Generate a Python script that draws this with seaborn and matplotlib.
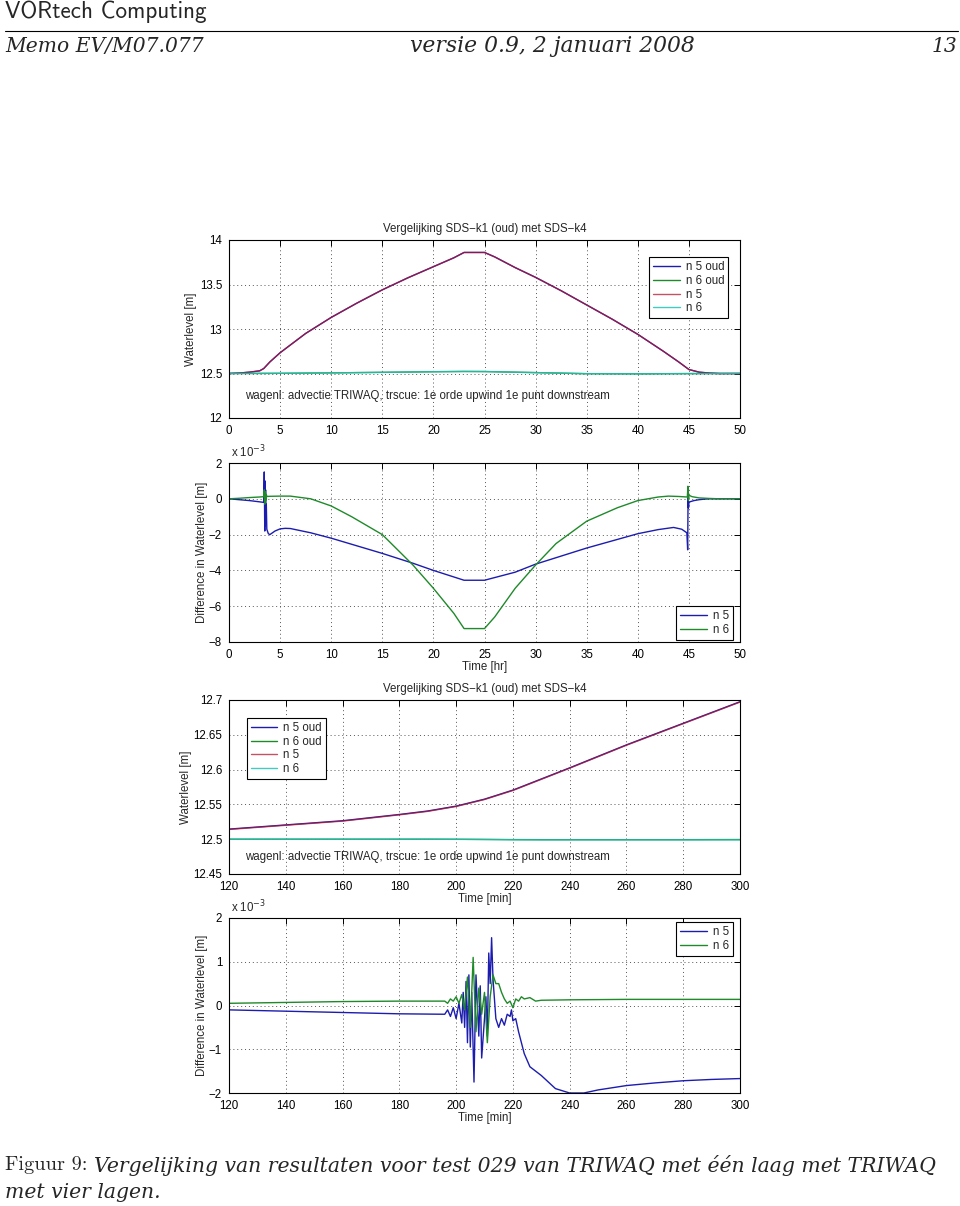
import matplotlib
matplotlib.use("Agg")
import matplotlib.pyplot as plt
import seaborn as sns
import pandas as pd

# ---------------- data ----------------
# Panel 1: waterlevel vs time [hr]
t_hr_n5 = [0, 1, 2, 3, 3.4, 4, 5, 6, 7.5, 10, 12.5, 15, 17.5, 20, 22, 23, 25, 26, 28, 30,
           32.5, 35, 37.5, 40, 42.5, 44, 45, 46, 47, 48, 50]
wl_n5_oud = [12.5, 12.505, 12.515, 12.53, 12.556, 12.63, 12.733, 12.82, 12.95, 13.13, 13.29,
             13.44, 13.575, 13.70, 13.80, 13.86, 13.86, 13.81, 13.69, 13.58, 13.43, 13.27, 13.11,
             12.94, 12.75, 12.63, 12.545, 12.515, 12.505, 12.5, 12.5]
wl_n5 = [12.5, 12.505, 12.515, 12.53, 12.556, 12.63, 12.733, 12.82, 12.95, 13.13, 13.29,
         13.44, 13.575, 13.70, 13.80, 13.86, 13.86, 13.81, 13.69, 13.58, 13.43, 13.27, 13.11,
         12.94, 12.75, 12.63, 12.545, 12.515, 12.505, 12.5, 12.5]
t_hr_n6 = [0, 5, 10, 15, 20, 23, 25, 30, 35, 40, 45, 50]
wl_n6_oud = [12.5, 12.502, 12.507, 12.513, 12.52, 12.523, 12.522, 12.51, 12.498, 12.496, 12.499, 12.5]
wl_n6 = [12.5, 12.502, 12.507, 12.513, 12.52, 12.523, 12.522, 12.51, 12.498, 12.496, 12.499, 12.5]

# Panel 2: difference (x 1e-3 m) vs time [hr]
t_hr_d5 = [0, 1, 2, 3, 3.4, 3.45, 3.5, 3.52, 3.55, 3.58, 3.6, 3.65, 3.7, 3.85, 4.0, 4.5, 5, 5.5, 6,
           8, 10, 15, 18, 20, 23, 25, 28, 30, 35, 40, 42, 43.5, 44.3, 44.8, 44.88, 44.92, 44.96,
           45.0, 45.05, 45.2, 45.5, 46, 46.5, 47, 48, 50]
d_n5 = [0, -0.05, -0.1, -0.17, -0.2, 1.5, -1.8, 1.0, -1.5, 0.5, -0.8, -0.3, -1.7, -1.95, -2.0,
        -1.8, -1.68, -1.65, -1.66, -1.9, -2.2, -3.05, -3.6, -4.0, -4.55, -4.55, -4.1, -3.65,
        -2.75, -1.95, -1.72, -1.6, -1.7, -1.9, -2.85, 0.2, -0.5, -0.2, -0.18, -0.15, -0.1,
        -0.05, -0.02, 0, 0, 0]
t_hr_d6 = [0, 1, 2, 3, 3.4, 3.45, 3.5, 3.55, 3.6, 3.65, 3.7, 4, 5, 6, 8, 10, 12, 15, 18, 20, 22,
           23, 25, 26, 28, 30, 32, 35, 38, 40, 42, 43, 44, 44.85, 44.9, 44.95, 45.0, 45.3, 46,
           47, 48, 50]
d_n6 = [0, 0.03, 0.07, 0.1, 0.12, 0.5, -0.3, 0.4, -0.1, 0.25, 0.13, 0.14, 0.15, 0.15, 0.0, -0.4,
        -1.0, -2.0, -3.7, -5.0, -6.4, -7.25, -7.25, -6.6, -5.0, -3.7, -2.5, -1.25, -0.5, -0.1,
        0.1, 0.15, 0.13, 0.1, 0.7, -0.1, 0.2, 0.12, 0.05, 0.02, 0.0, 0.0]

# Panel 3: waterlevel vs time [min]
t_min = [120, 140, 160, 180, 190, 200, 210, 220, 230, 240, 260, 280, 300]
wlm_n5_oud = [12.5145, 12.5205, 12.5265, 12.5355, 12.5405, 12.5475, 12.5575, 12.5705, 12.5865,
              12.6025, 12.6355, 12.6665, 12.6975]
wlm_n6_oud = [12.5, 12.5, 12.5, 12.5, 12.5, 12.4999, 12.4997, 12.4994, 12.4993, 12.4993,
              12.4993, 12.4993, 12.4995]
wlm_n5 = [12.514, 12.520, 12.526, 12.535, 12.540, 12.547, 12.557, 12.570, 12.586, 12.602,
          12.635, 12.666, 12.697]
wlm_n6 = [12.5, 12.5, 12.5, 12.5, 12.5, 12.4998, 12.4995, 12.4992, 12.4990, 12.4990, 12.4990,
          12.4990, 12.4990]

# Panel 4: difference (x 1e-3 m) vs time [min]
t_min_d5 = [120, 140, 160, 180, 196, 197, 198, 199, 200, 201, 202, 202.5, 203, 203.5, 204,
            204.5, 205, 205.5, 206.3, 207, 208, 208.5, 209, 210, 210.5, 211, 211.5, 212, 212.5,
            213, 214, 215, 216, 217, 218, 219, 219.5, 220, 221, 222, 224, 226, 230, 235, 240,
            245, 250, 260, 270, 280, 290, 300]
dm_n5 = [-0.1, -0.13, -0.16, -0.19, -0.2, -0.1, -0.25, -0.05, -0.3, 0.05, -0.4, 0.3, -0.5, 0.55,
         -0.85, 0.7, -0.95, 0.3, -1.75, 0.7, -0.7, 0.45, -1.2, -0.3, 0.2, -0.7, 1.2, 0.5, 1.55,
         0.6, -0.3, -0.5, -0.3, -0.45, -0.2, -0.25, -0.1, -0.35, -0.3, -0.6, -1.1, -1.4, -1.6,
         -1.9, -2.0, -2.0, -1.93, -1.83, -1.77, -1.72, -1.69, -1.67]
t_min_d6 = [120, 140, 160, 180, 196, 197, 198, 199, 200, 201, 202, 203, 204, 205, 206, 207, 208,
            209, 210, 211, 212, 213, 214, 215, 216, 217, 218, 219, 220, 221, 222, 223, 224, 226,
            228, 230, 240, 260, 280, 300]
dm_n6 = [0.05, 0.07, 0.09, 0.1, 0.1, 0.05, 0.15, 0.1, 0.2, 0.05, 0.25, -0.1, 0.65, -0.5, 1.1,
         -0.6, 0.4, -0.2, 0.3, -0.85, 0.2, 0.7, 0.5, 0.5, 0.3, 0.15, 0.05, 0.1, -0.05, 0.15, 0.1,
         0.2, 0.15, 0.18, 0.1, 0.12, 0.13, 0.14, 0.14, 0.14]

title_txt = "Vergelijking SDS\u2212k1 (oud) met SDS\u2212k4"
note_txt = "wagenl: advectie TRIWAQ, trscue: 1e orde upwind 1e punt downstream"
xt_hr = [0, 5, 10, 15, 20, 25, 30, 35, 40, 45, 50]
xt_min = [120, 140, 160, 180, 200, 220, 240, 260, 280, 300]
yt1 = [12, 12.5, 13, 13.5, 14]
yt2 = [-8, -6, -4, -2, 0, 2]
yt3 = [12.45, 12.5, 12.55, 12.6, 12.65, 12.7]
yt4 = [-2, -1, 0, 1, 2]

# ---------------- style ----------------
sns.set_theme(style="white")
plt.rcParams['font.family'] = ['Liberation Sans', 'DejaVu Sans']
plt.rcParams['axes.unicode_minus'] = True
FS = 8.3

C_BLUE = "#1c1cb0"
C_GREEN = "#1f8a2a"
C_RED = "#b01830"
C_CYAN = "#22c2b8"

W, H = 960, 1206
fig = plt.figure(figsize=(W / 100, H / 100), dpi=100)


def rect(l, t, r, b):
    return [l / W, 1 - b / H, (r - l) / W, (b - t) / H]


def style_axes(ax, xticks, yticks, xlim, ylim):
    ax.set_xlim(*xlim)
    ax.set_ylim(*ylim)
    ax.set_xticks(xticks)
    ax.set_yticks(yticks)
    ax.set_xticklabels([f"{v:g}" for v in xticks])
    ax.set_yticklabels([f"{v:g}".replace("-", "\u2212") for v in yticks])
    ax.tick_params(direction='in', length=4, width=0.7, top=True, right=True,
                   labelsize=FS, pad=5, colors='black')
    ax.grid(True, linestyle=(0, (1, 3)), color='#555555', linewidth=0.7)
    for s in ax.spines.values():
        s.set_color('black')
        s.set_linewidth(0.8)
    ax.set_facecolor('white')


def line(ax, x, y, color, label, lw=1.0, alpha=1.0):
    df = pd.DataFrame({'x': x, 'y': y})
    sns.lineplot(data=df, x='x', y='y', ax=ax, color=color, label=label, lw=lw,
                 estimator=None, sort=False, alpha=alpha)


def legend(ax, loc, anchor):
    lg = ax.legend(loc=loc, bbox_to_anchor=anchor, borderaxespad=0, fontsize=FS,
                   fancybox=False, framealpha=1, edgecolor='black', handlelength=2.3,
                   handletextpad=0.5, labelspacing=0.15, borderpad=0.35)
    lg.get_frame().set_linewidth(0.8)


# Panel 1
ax1 = fig.add_axes(rect(229, 240, 740, 418))
line(ax1, t_hr_n5, wl_n5_oud, C_BLUE, "n 5 oud")
line(ax1, t_hr_n6, wl_n6_oud, C_GREEN, "n 6 oud")
line(ax1, t_hr_n5, wl_n5, C_RED, "n 5", alpha=0.75)
line(ax1, t_hr_n6, wl_n6, C_CYAN, "n 6", alpha=0.85)
style_axes(ax1, xt_hr, yt1, (0, 50), (12, 14))
ax1.set_title(title_txt, fontsize=FS, pad=6)
ax1.set_xlabel("")
ax1.set_ylabel("Waterlevel [m]", fontsize=FS)
ax1.yaxis.set_label_coords(-0.062, 0.5)
ax1.text(0.031, 0.124, note_txt, transform=ax1.transAxes, fontsize=FS, va='center', ha='left')
legend(ax1, 'upper right', (0.977, 0.904))

# Panel 2
ax2 = fig.add_axes(rect(229, 463, 740, 642))
line(ax2, t_hr_d5, d_n5, C_BLUE, "n 5")
line(ax2, t_hr_d6, d_n6, C_GREEN, "n 6")
style_axes(ax2, xt_hr, yt2, (0, 50), (-8, 2))
ax2.set_xlabel("Time [hr]", fontsize=FS)
ax2.xaxis.set_label_coords(0.5, -0.105)
ax2.set_ylabel("Difference in Waterlevel [m]", fontsize=FS)
ax2.yaxis.set_label_coords(-0.042, 0.5)
ax2.text(0.003, 1.015, r"x 10$^{-3}$", transform=ax2.transAxes, fontsize=FS, va='bottom')
legend(ax2, 'lower right', (0.986, 0.011))

# Panel 3
ax3 = fig.add_axes(rect(229, 700, 740, 874))
line(ax3, t_min, wlm_n5_oud, C_BLUE, "n 5 oud")
line(ax3, t_min, wlm_n6_oud, C_GREEN, "n 6 oud")
line(ax3, t_min, wlm_n5, C_RED, "n 5", alpha=0.75)
line(ax3, t_min, wlm_n6, C_CYAN, "n 6", alpha=0.85)
style_axes(ax3, xt_min, yt3, (120, 300), (12.45, 12.7))
ax3.set_title(title_txt, fontsize=FS, pad=6)
ax3.set_xlabel("Time [min]", fontsize=FS)
ax3.xaxis.set_label_coords(0.5, -0.108)
ax3.set_ylabel("Waterlevel [m]", fontsize=FS)
ax3.yaxis.set_label_coords(-0.072, 0.5)
ax3.text(0.031, 0.098, note_txt, transform=ax3.transAxes, fontsize=FS, va='center', ha='left')
legend(ax3, 'upper left', (0.035, 0.897))

# Panel 4
ax4 = fig.add_axes(rect(229, 918, 740, 1093))
line(ax4, t_min_d5, dm_n5, C_BLUE, "n 5")
line(ax4, t_min_d6, dm_n6, C_GREEN, "n 6")
style_axes(ax4, xt_min, yt4, (120, 300), (-2, 2))
ax4.set_xlabel("Time [min]", fontsize=FS)
ax4.xaxis.set_label_coords(0.5, -0.107)
ax4.set_ylabel("Difference in Waterlevel [m]", fontsize=FS)
ax4.yaxis.set_label_coords(-0.042, 0.5)
ax4.text(0.003, 1.015, r"x 10$^{-3}$", transform=ax4.transAxes, fontsize=FS, va='bottom')
legend(ax4, 'upper right', (0.986, 0.977))

# ---------------- page header & caption ----------------
renderer = fig.canvas.get_renderer()
SERIF_IT = dict(family=['DejaVu Serif'], style='italic')


def fit_text(x_px, y_px, s, target_w, ha='left', **kw):
    t = fig.text(x_px / W, 1 - y_px / H, s, ha=ha, va='center', fontsize=16, **kw)
    w = t.get_window_extent(renderer).width
    t.set_fontsize(16 * target_w / w)
    return t


fit_text(5, 12, "VORtech Computing", 202, family=['cmss10', 'DejaVu Sans'])
fig.add_artist(plt.Line2D([5 / W, 958 / W], [1 - 31 / H, 1 - 31 / H], color='black', lw=0.8))
tm = fit_text(5, 46, "Memo EV/M07.077", 199, **SERIF_IT)
fs_head = tm.get_fontsize()
fit_text(552, 46, "versie 0.9, 2 januari 2008", 285, ha='center', **SERIF_IT)
fig.text(957 / W, 1 - 46 / H, "13", ha='right', va='center', fontsize=fs_head, **SERIF_IT)

rest = "Vergelijking van resultaten voor test 029 van TRIWAQ met \u00e9\u00e9n laag met TRIWAQ"
t1 = fig.text(5 / W, 1 - 1165 / H, "Figuur 9: ", ha='left', va='center', fontsize=16,
              family=['cmr10', 'DejaVu Serif'])
t2 = fig.text(0, 1 - 1165 / H, rest, ha='left', va='center', fontsize=16, **SERIF_IT)
w_total = t1.get_window_extent(renderer).width + t2.get_window_extent(renderer).width
fs_cap = 16 * (937 - 5) / w_total
t1.set_fontsize(fs_cap)
t2.set_fontsize(fs_cap)
w1 = t1.get_window_extent(renderer).width
t2.set_x((5 + w1) / W)
fig.text(5 / W, 1 - 1192 / H, "met vier lagen.", ha='left', va='center', fontsize=fs_cap,
         **SERIF_IT)

fig.savefig("out.png", dpi=100, facecolor='white')
